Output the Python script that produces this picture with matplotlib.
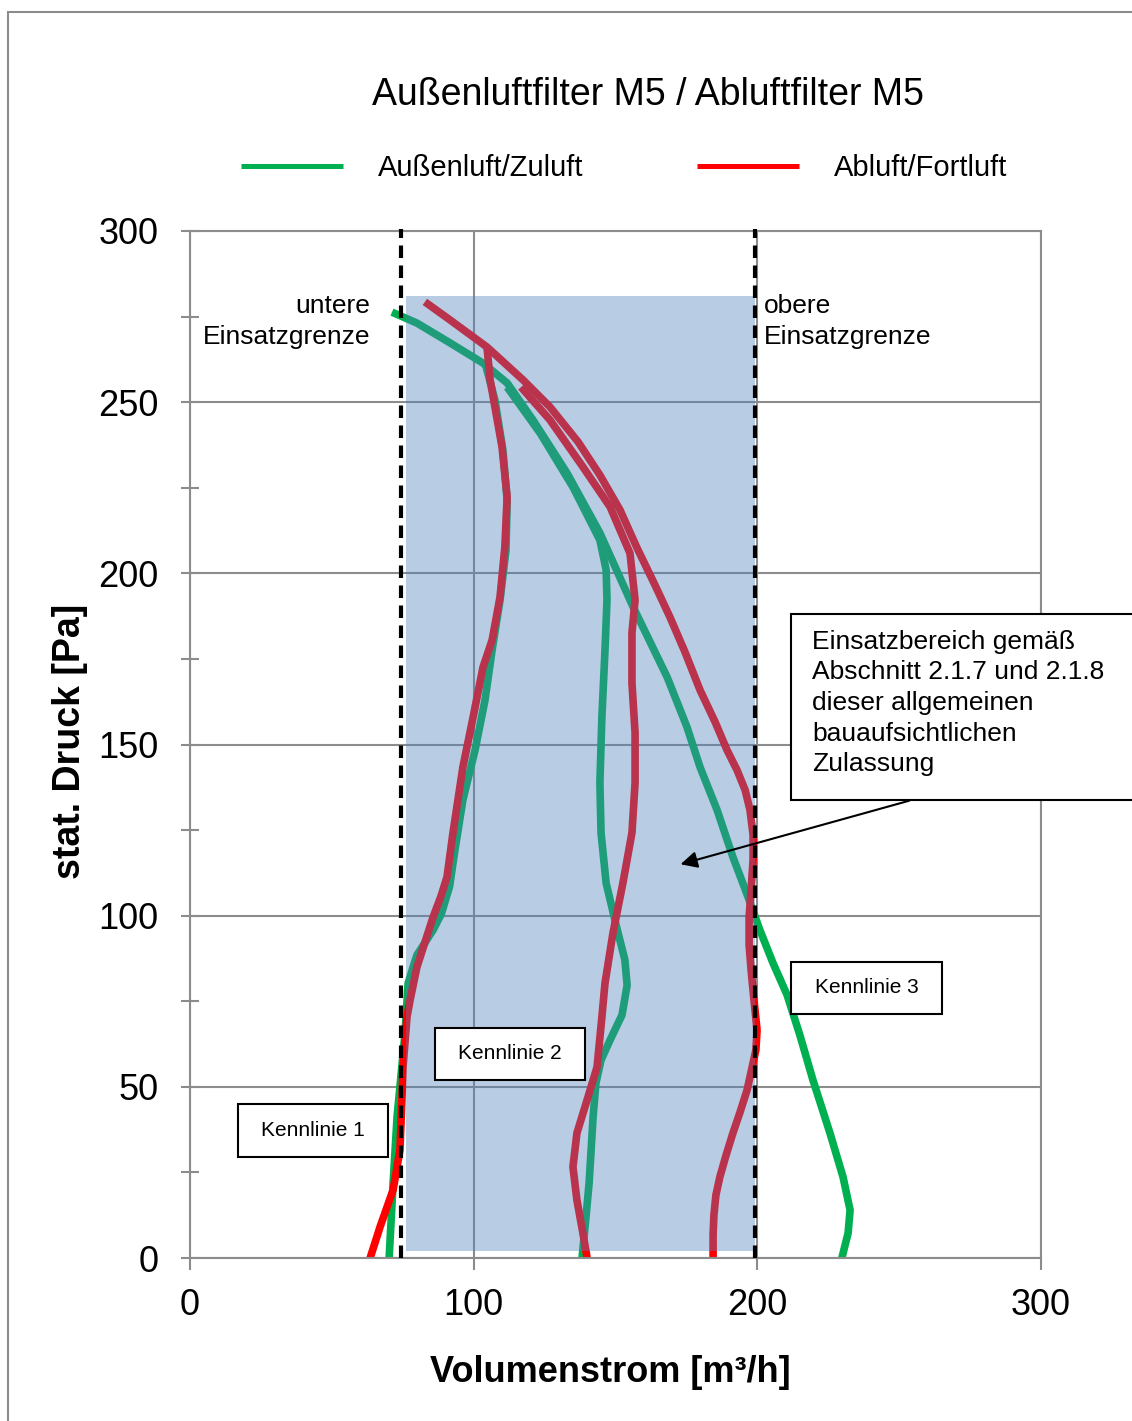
import matplotlib
matplotlib.use("Agg")
import matplotlib.pyplot as plt
from matplotlib.patches import Rectangle
from matplotlib.ticker import MultipleLocator

plt.rcParams['font.family'] = ['Liberation Sans', 'DejaVu Sans']

# Kennlinien Außenluft/Zuluft (green) and Abluft/Fortluft (red), Volumenstrom [m3/h] vs Druck [Pa]
zul_k1_q = [104.3, 107.5, 110.3, 111.8, 111.4, 109.3, 106.5, 104.0, 100.5, 96.2, 93.4, 91.5, 88.6, 85.7, 80.0, 76.9, 75.8, 73.0, 71.6, 70.2]
zul_k1_p = [260.6, 250.6, 236.0, 221.4, 206.8, 192.2, 177.6, 163.0, 148.4, 133.8, 119.2, 108.5, 100.5, 95.8, 88.5, 80.3, 65.7, 41.2, 21.9, 0]

zul_k2_q = [111.8, 123.4, 135.0, 144.5, 146.7, 147.0, 146.3, 145.2, 144.5, 144.9, 146.7, 150.2, 153.3, 154.1, 152.3, 148.1, 144.9, 143.1, 142.1, 141.4, 140.7, 139.6, 138.2]
zul_k2_p = [254.4, 241.0, 225.2, 209.7, 201.0, 192.2, 177.6, 158.0, 138.8, 124.2, 109.5, 97.3, 87.1, 79.7, 71.0, 63.7, 57.8, 51.1, 41.2, 31.5, 21.9, 12.0, 0]

zul_k3_q = [71.2, 80.0, 91.7, 103.3, 111.8, 120.9, 132.9, 144.5, 156.2, 168.2, 175.2, 179.8, 185.8, 191.4, 196.7,
            200.9, 205.5, 210.5, 215.0, 219.6, 225.6, 230.2, 232.7, 232.0, 229.8]
zul_k3_p = [276.3, 273.1, 267.3, 261.4, 255.6, 244.8, 229.3, 211.8, 190.2, 169.7, 155.1, 143.4, 130.9, 117.1, 105.5,
            95.8, 86.2, 76.8, 65.1, 52.0, 36.5, 23.7, 14.0, 7.3, 0]

abl_k1_q = [104.7, 105.8, 110.0, 111.8, 111.0, 109.3, 106.5, 103.3, 99.8, 96.2, 92.7, 90.6, 88.4, 85.7, 80.0, 77.6, 76.5, 75.1, 74.7, 74.0, 71.6, 67.0, 63.5]
abl_k1_p = [266.1, 256.5, 236.9, 222.3, 207.7, 193.1, 180.5, 172.6, 158.0, 143.4, 124.2, 111.3, 105.5, 99.6, 85.0, 75.4, 70.4, 55.8, 46.2, 31.5, 19.9, 9.1, 0]

abl_k2_q = [116.7, 126.9, 138.5, 148.1, 155.1, 156.9, 155.8, 155.8, 156.9, 156.9, 155.8, 152.6, 149.1, 146.3, 145.2, 143.5, 140.0, 136.4, 135.0, 136.4, 138.5, 140.0]
abl_k2_p = [254.4, 244.8, 231.1, 219.4, 205.9, 192.2, 182.6, 168.0, 153.4, 138.8, 124.2, 109.5, 94.9, 80.3, 70.4, 55.8, 46.2, 36.5, 26.6, 16.9, 7.3, 0]

abl_k3_q = [82.8, 91.7, 104.7, 117.4, 126.9, 136.8, 144.5, 151.6, 157.6, 163.9, 169.2, 174.5, 179.8, 185.1, 189.3,
            192.8, 195.7, 197.4, 198.5, 198.5, 197.8, 197.1, 197.1, 197.8, 198.8, 199.9, 199.5, 198.1, 196.4,
            193.9, 191.4, 189.0, 186.8, 185.4, 184.7, 184.4, 184.4]
abl_k3_p = [279.3, 274.0, 266.1, 256.5, 248.6, 238.4, 228.7, 218.5, 207.4, 196.6, 187.2, 177.0, 165.9, 156.6, 148.4,
            142.6, 136.7, 130.9, 123.6, 116.3, 107.5, 99.6, 91.4, 84.1, 75.4, 66.6, 60.8, 55.5, 49.1,
            42.6, 36.5, 30.1, 23.7, 18.4, 12.6, 6.7, 0]

# Einsatzgrenzen und Einsatzbereich
grenze_unten = 74.5
grenze_oben = 199.3
bereich_q = (76.0, 199.3)
bereich_p = (2.0, 281.0)

GREEN = '#00B050'
RED = '#FF0000'
GRID = '#8C8C8C'

fig = plt.figure(figsize=(11.32, 14.21), dpi=100)
ax = fig.add_axes([190 / 1132, 1 - 1258 / 1421, 851 / 1132, 1027 / 1421])

# outer chart frame
fig.add_artist(Rectangle((8 / 1132, -0.05), 1.2, 1.05 - 12 / 1421, transform=fig.transFigure,
                         fill=False, ec=GRID, lw=1.5))

lw = 5.5
kw = dict(lw=lw, solid_capstyle='butt', solid_joinstyle='round', zorder=2)
ax.plot(zul_k1_q, zul_k1_p, color=GREEN, label='Außenluft/Zuluft', **kw)
ax.plot(zul_k2_q, zul_k2_p, color=GREEN, **kw)
ax.plot(zul_k3_q, zul_k3_p, color=GREEN, **kw)
ax.plot(abl_k1_q, abl_k1_p, color=RED, label='Abluft/Fortluft', **kw)
ax.plot(abl_k2_q, abl_k2_p, color=RED, **kw)
ax.plot(abl_k3_q, abl_k3_p, color=RED, **kw)

# translucent operating range on top of the curves
ax.add_patch(Rectangle((bereich_q[0], bereich_p[0]), bereich_q[1] - bereich_q[0], bereich_p[1] - bereich_p[0],
                       fc='#4F81BD', alpha=0.4, lw=0, zorder=3))

for xg in (grenze_unten, grenze_oben):
    ax.plot([xg, xg], [0, 300.5], color='black', lw=3, ls=(0, (3, 1.8)), zorder=4, clip_on=False)

ax.set_xlim(0, 300)
ax.set_ylim(0, 300)
ax.xaxis.set_major_locator(MultipleLocator(100))
ax.yaxis.set_major_locator(MultipleLocator(50))
ax.yaxis.set_minor_locator(MultipleLocator(25))
ax.grid(True, which='major', color=GRID, lw=1.5, zorder=0.5)
ax.set_axisbelow(True)
for s in ax.spines.values():
    s.set_color(GRID)
    s.set_linewidth(1.5)
ax.tick_params(axis='y', which='both', direction='inout', length=13.5, width=1.5, color=GRID,
               labelsize=26, pad=16)
ax.tick_params(axis='x', which='major', direction='out', length=8.6, width=1.5, color=GRID,
               labelsize=26, pad=13)
ax.tick_params(top=False, right=False)

ax.set_xlabel('Volumenstrom [m³/h]', fontsize=26, fontweight='bold')
ax.xaxis.set_label_coords((610 - 190) / 851, -(1372 - 1258) / 1027)
ax.xaxis.label.set_va('center')
ax.set_ylabel('stat. Druck [Pa]', fontsize=27, fontweight='bold')
ax.yaxis.set_label_coords(-(190 - 70) / 851, (1258 - 741) / 1027)
ax.yaxis.label.set_va('center')

fig.text(648 / 1132, 1 - 95 / 1421, 'Außenluftfilter M5 / Abluftfilter M5', fontsize=27,
         ha='center', va='center')

leg = fig.legend(loc='center', bbox_to_anchor=(624 / 1132, 1 - 168 / 1421), ncol=2, frameon=False,
                 fontsize=21, handlelength=3.5, handletextpad=1.2, columnspacing=3.9)
for h in leg.get_lines():
    h.set_linewidth(3.6)

ax.text(63.5, 273.6, 'untere\nEinsatzgrenze', fontsize=19, ha='right', va='center', multialignment='right',
        linespacing=1.35)
ax.text(202.3, 273.6, 'obere\nEinsatzgrenze', fontsize=19, ha='left', va='center', linespacing=1.35)

# Kennlinie labels
for (x0, y0, x1, y1), txt in [((16.9, 29.5, 69.8, 45.0), 'Kennlinie 1'),
                              ((86.4, 52.0, 139.2, 67.2), 'Kennlinie 2'),
                              ((211.9, 71.3, 265.2, 86.5), 'Kennlinie 3')]:
    ax.add_patch(Rectangle((x0, y0), x1 - x0, y1 - y0, fc='white', ec='black', lw=1.5, zorder=5))
    ax.text((x0 + x1) / 2, (y0 + y1) / 2, txt, fontsize=15, ha='center', va='center', zorder=6)

# note box (runs off the right edge)
fig.add_artist(Rectangle((791 / 1132, 1 - 800 / 1421), 0.5, 186 / 1421, transform=fig.transFigure,
                         fc='white', ec='black', lw=1.5, zorder=5))
fig.text(812 / 1132, 1 - 703 / 1421,
         'Einsatzbereich gemäß\nAbschnitt 2.1.7 und 2.1.8\ndieser allgemeinen\nbauaufsichtlichen\nZulassung',
         fontsize=19, ha='left', va='center', linespacing=1.35, zorder=6)
ax.annotate('', xy=(172.0, 114.8), xytext=(254.5, 133.8),
            arrowprops=dict(arrowstyle='-|>', color='black', lw=1.5, mutation_scale=25), zorder=6,
            annotation_clip=False)

fig.savefig('out.png', dpi=100)
